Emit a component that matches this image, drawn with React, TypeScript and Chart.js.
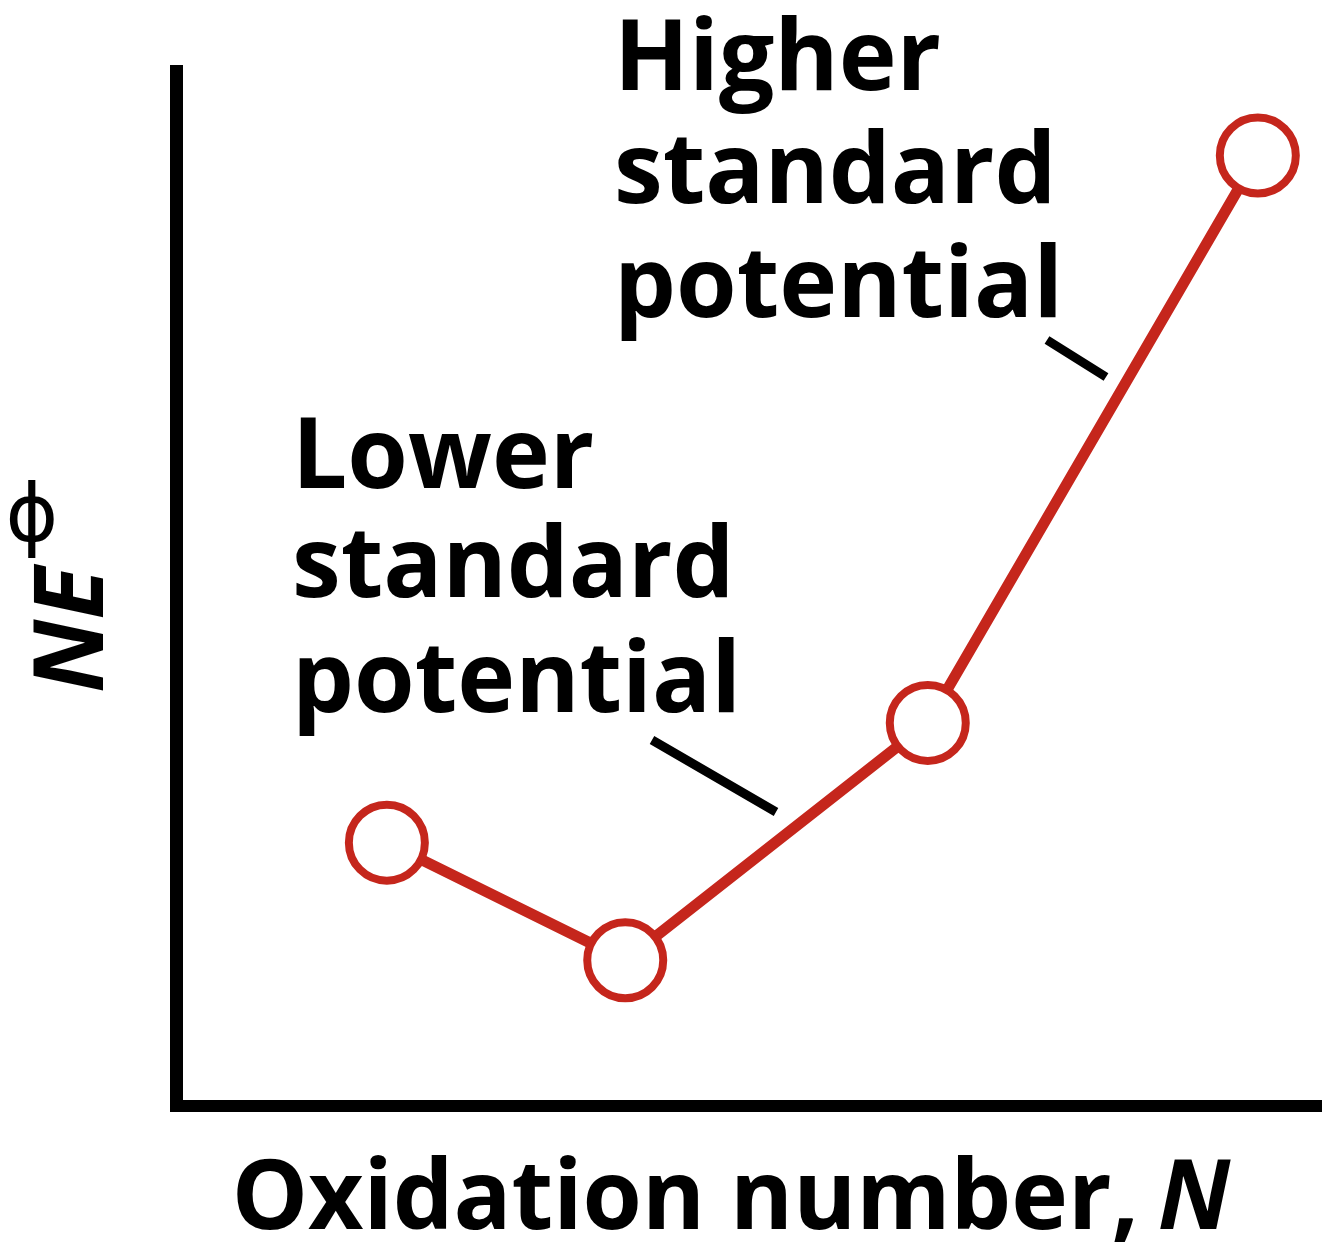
import React, { useEffect, useRef } from "react";
import { Chart, registerables } from "chart.js";

Chart.register(...registerables);

// Data (arbitrary units)
const oxidationNumber: number[] = [18.4, 39.2, 65.6, 94.4];
const nE: number[] = [25.3, 14.0, 36.8, 91.3];

const xTitle = "Oxidation number, ";
const xTitleItalic = "N";
const yTitle = "NE";
const ySup = "ϕ";
const higherLines: string[] = ["Higher", "standard", "potential"];
const lowerLines: string[] = ["Lower", "standard", "potential"];

const RED = "rgb(197,38,28)";
const FONT = '"Open Sans", "Noto Sans", sans-serif';

const decorPlugin = {
  id: "decor",
  beforeDatasetsDraw(chart: any) {
    const { ctx, chartArea } = chart;
    ctx.save();
    ctx.fillStyle = "#000";
    // axes
    ctx.fillRect(chartArea.left - 6, chartArea.top, 13, chartArea.bottom - chartArea.top + 6);
    ctx.fillRect(chartArea.left - 6, chartArea.bottom - 6, chartArea.right - chartArea.left + 6, 12);

    // leader lines
    ctx.strokeStyle = "#000";
    ctx.lineWidth = 9;
    ctx.lineCap = "butt";
    ctx.beginPath();
    ctx.moveTo(1047, 340);
    ctx.lineTo(1106, 377);
    ctx.moveTo(652, 740);
    ctx.lineTo(776, 812);
    ctx.stroke();

    // annotations
    ctx.textAlign = "left";
    ctx.textBaseline = "alphabetic";
    ctx.font = `bold 98px ${FONT}`;
    const hb = [90, 203, 317];
    higherLines.forEach((t, i) => ctx.fillText(t, 614, hb[i]));
    const lb = [488, 597, 712];
    lowerLines.forEach((t, i) => ctx.fillText(t, 292, lb[i]));

    // x title
    ctx.font = `bold 96px ${FONT}`;
    const w1 = ctx.measureText(xTitle).width;
    ctx.font = `italic bold 96px ${FONT}`;
    const w2 = ctx.measureText(xTitleItalic).width;
    const startX = 731 - (w1 + w2 - 6) / 2;
    ctx.font = `bold 96px ${FONT}`;
    ctx.fillText(xTitle, startX, 1229);
    ctx.font = `italic bold 96px ${FONT}`;
    ctx.fillText(xTitleItalic, startX + w1 - 6, 1229);

    // y title
    ctx.save();
    ctx.translate(103, 630);
    ctx.rotate(-Math.PI / 2);
    ctx.textAlign = "center";
    ctx.font = `italic bold 97px ${FONT}`;
    ctx.fillText(yTitle, 0, 0);
    ctx.restore();

    ctx.textAlign = "center";
    ctx.textBaseline = "middle";
    ctx.font = `80px "DejaVu Sans", sans-serif`;
    ctx.fillText(ySup, 32, 520);
    ctx.restore();
  },
};

export default function App() {
  const ref = useRef<HTMLCanvasElement | null>(null);
  useEffect(() => {
    document.body.style.margin = "0";
    if (!ref.current) return;
    const chart = new Chart(ref.current, {
      type: "line",
      data: {
        datasets: [
          {
            data: oxidationNumber.map((x, i) => ({ x, y: nE[i] })),
            borderColor: RED,
            borderWidth: 11,
            pointRadius: 38,
            pointBorderWidth: 8,
            pointBackgroundColor: "#fff",
            pointBorderColor: RED,
            pointHoverRadius: 38,
            tension: 0,
            clip: false as any,
          },
        ],
      },
      options: {
        animation: false,
        responsive: false,
        events: [],
        layout: { autoPadding: false, padding: { left: 176, right: 6, top: 65, bottom: 138 } },
        plugins: { legend: { display: false }, tooltip: { enabled: false } },
        scales: {
          x: { type: "linear", min: 0, max: 100, display: false },
          y: { type: "linear", min: 0, max: 100, display: false },
        },
      },
      plugins: [decorPlugin],
    });
    return () => chart.destroy();
  }, []);
  return (
    <div style={{ width: 1328, height: 1244, background: "#fff" }}>
      <canvas ref={ref} width={1328} height={1244} style={{ display: "block" }} />
    </div>
  );
}
